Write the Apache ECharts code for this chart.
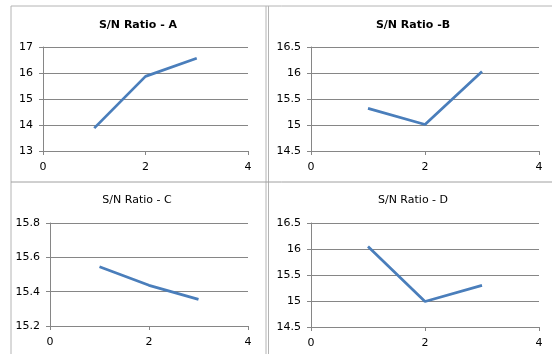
<!DOCTYPE html>
<html>
<head>
<meta charset="utf-8">
<script src="https://cdn.jsdelivr.net/npm/echarts@6/dist/echarts.min.js"></script>
<style>
  html, body { margin: 0; padding: 0; background: #fff; }
  #chart { width: 552px; height: 354px; }
</style>
</head>
<body>
<div id="chart"></div>
<script>
// levels 1..3 for each factor
const levels = [1, 2, 3];
const ratioA = [13.88, 15.87, 16.57];
const ratioB = [15.32, 15.01, 16.03];
const ratioC = [15.545, 15.437, 15.355];
const ratioD = [16.05, 14.99, 15.30];

const titles = ['S/N Ratio - A', 'S/N Ratio -B', 'S/N Ratio - C', 'S/N Ratio - D'];
const boldTitle = [true, true, false, false];
const yRanges = [
  { min: 13, max: 17, interval: 1 },
  { min: 14.5, max: 16.5, interval: 0.5 },
  { min: 15.2, max: 15.8, interval: 0.2 },
  { min: 14.5, max: 16.5, interval: 0.5 },
];
const seriesData = [ratioA, ratioB, ratioC, ratioD];

const grids = [
  { left: 43, top: 47, width: 205, height: 104 },
  { left: 311, top: 47, width: 228, height: 104 },
  { left: 50, top: 223, width: 198, height: 103 },
  { left: 311, top: 223, width: 228, height: 104 },
];
const titlePos = [
  { left: 138, top: 20 },
  { left: 413, top: 20 },
  { left: 137, top: 195 },
  { left: 413, top: 195 },
];

const font = 'DejaVu Sans';
const axisGray = '#868686';
const lineBlue = '#4a7ebb';
const borderGray = '#b4b4b4';

const chart = echarts.init(document.getElementById('chart'));

chart.setOption({
  animation: false,
  backgroundColor: '#fff',
  title: titles.map((t, i) => ({
    text: t,
    left: titlePos[i].left,
    top: titlePos[i].top,
    textAlign: 'center',
    padding: 0,
    textStyle: {
      fontFamily: font,
      fontSize: 11,
      fontWeight: boldTitle[i] ? 'bold' : 'normal',
      color: '#000',
    },
  })),
  grid: grids,
  xAxis: grids.map((g, i) => ({
    type: 'value',
    gridIndex: i,
    min: 0,
    max: 4,
    interval: 2,
    axisLine: { show: true, onZero: false, lineStyle: { color: axisGray, width: 1 } },
    axisTick: { show: true, length: 4, lineStyle: { color: axisGray } },
    axisLabel: { color: '#000', fontFamily: font, fontSize: 11, margin: 11 },
    splitLine: { show: false },
  })),
  yAxis: yRanges.map((r, i) => ({
    type: 'value',
    gridIndex: i,
    min: r.min,
    max: r.max,
    interval: r.interval,
    axisLine: { show: true, lineStyle: { color: axisGray, width: 1 } },
    axisTick: { show: true, length: 4, lineStyle: { color: axisGray } },
    axisLabel: { color: '#000', fontFamily: font, fontSize: 11, margin: 10 },
    splitLine: { show: true, lineStyle: { color: axisGray, width: 1 } },
  })),
  series: seriesData.map((vals, i) => ({
    type: 'line',
    xAxisIndex: i,
    yAxisIndex: i,
    data: levels.map((x, k) => [x, vals[k]]),
    showSymbol: false,
    symbol: 'none',
    lineStyle: { color: lineBlue, width: 2.75 },
    z: 3,
  })),
  graphic: [
    { type: 'line', shape: { x1: 11, y1: 6, x2: 552, y2: 6 }, style: { stroke: borderGray, lineWidth: 1 } },
    { type: 'line', shape: { x1: 11, y1: 6, x2: 11, y2: 354 }, style: { stroke: borderGray, lineWidth: 1 } },
    { type: 'line', shape: { x1: 266, y1: 6, x2: 266, y2: 354 }, style: { stroke: borderGray, lineWidth: 1 } },
    { type: 'line', shape: { x1: 268.5, y1: 6, x2: 268.5, y2: 354 }, style: { stroke: borderGray, lineWidth: 1 } },
    { type: 'line', shape: { x1: 11, y1: 182, x2: 552, y2: 182 }, style: { stroke: '#a0a0a0', lineWidth: 1 } },
  ],
});
</script>
</body>
</html>
